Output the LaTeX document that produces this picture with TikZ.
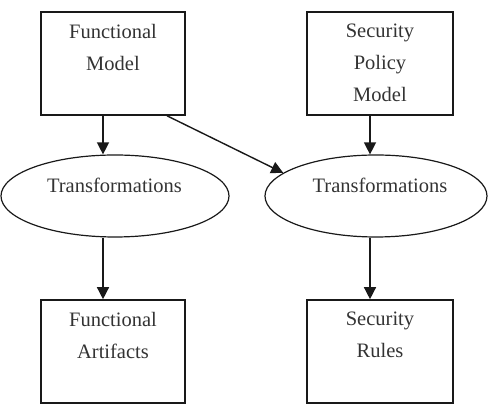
\documentclass[tikz,border=0pt]{standalone}
\usepackage{fontspec}
\setmainfont{Liberation Serif}
\usetikzlibrary{shapes.geometric,arrows.meta}
\tikzset{
  boxnode/.style={draw=black!90, line width=1.6pt, rectangle, inner sep=0pt},
  ellnode/.style={draw=black!90, line width=1.2pt, ellipse, inner sep=0pt},
  txt/.style={inner sep=0pt, align=center, text=black!80,
    font=\fontsize{20.5}{32}\selectfont},
  toptxt/.style={txt, anchor=north, execute at begin node={\rule{0pt}{16pt}}},
  arr/.style={draw=black!90, line width=1.4pt, -{Triangle[length=12pt,width=12pt]}},
}
\begin{document}
\begin{tikzpicture}[x=1pt,y=1pt]
\useasboundingbox (0,0) rectangle (488,406);
% boxes
\node[boxnode, minimum width=144pt, minimum height=103pt] (fm) at (113,342.5) {};
\node[boxnode, minimum width=146pt, minimum height=103pt] (spm) at (380,342.5) {};
\node[boxnode, minimum width=144pt, minimum height=103pt] (fa) at (113,54.5) {};
\node[boxnode, minimum width=146pt, minimum height=103pt] (sr) at (380,54.5) {};
% ellipses
\node[ellnode, minimum width=228pt, minimum height=82pt] (t1) at (115,210) {};
\node[ellnode, minimum width=222pt, minimum height=82pt] (t2) at (376,210) {};
% texts
\node[toptxt] (fmtxt) at (113,382) {Functional\\Model};
\node[toptxt] (spmtxt) at (380,382) {Security\\Policy\\Model};
\node[toptxt] (fatxt) at (113,94) {Functional\\Artifacts};
\node[toptxt] (srtxt) at (380,94) {Security\\Rules};
\node[txt, anchor=base] (t1txt) at (114.5,213) {Transformations};
\node[txt, anchor=base] (t2txt) at (380,213) {Transformations};
% connectors
\coordinate (lx) at (103,0);
\coordinate (rx) at (370,0);
\coordinate (dx) at (167,0);
\draw[arr] (fm.south -| lx) -- (t1.north -| lx);
\draw[arr] (spm.south -| rx) -- (t2.north -| rx);
\draw[arr] (fm.south -| dx) -- (t2.166);
\draw[arr] (t1.south -| lx) -- (fa.north -| lx);
\draw[arr] (t2.south -| rx) -- (sr.north -| rx);
\end{tikzpicture}
\end{document}
